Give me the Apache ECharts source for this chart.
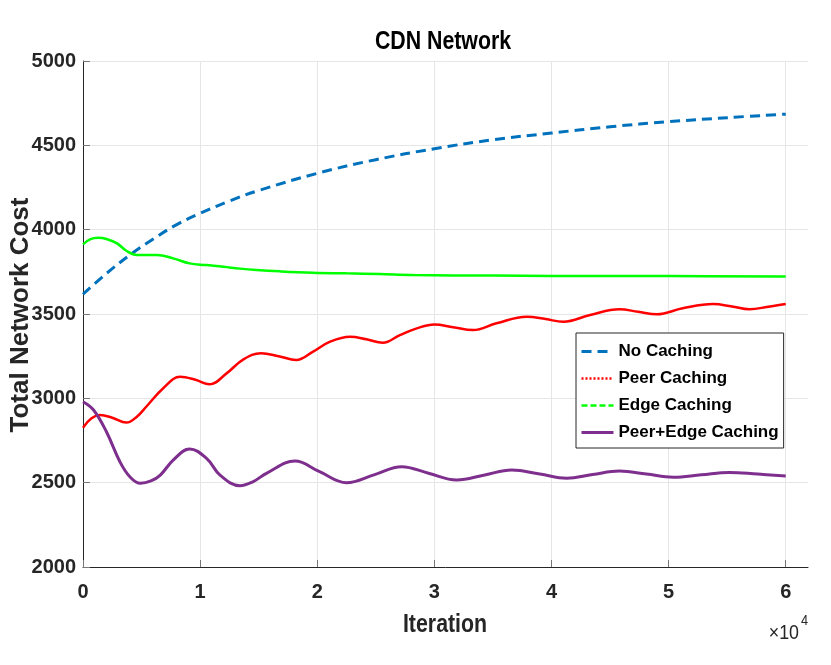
<!DOCTYPE html>
<html>
<head>
<meta charset="utf-8">
<script src="https://cdn.jsdelivr.net/npm/echarts@6/dist/echarts.min.js"></script>
<style>
html,body{margin:0;padding:0;background:#fff;}
#chart{width:831px;height:665px;}
</style>
</head>
<body>
<div id="chart"></div>
<script>
// ---- data (x in units of 10^4 iterations) ----
const noCachingX = [0,0.2,0.4,0.6,0.8,1.0,1.25,1.5,2.0,2.5,3.0,3.5,4.0,4.5,5.0,5.5,6.0];
const noCachingY = [3617,3740,3850,3945,4030,4097,4170,4232,4334,4415,4480,4533,4573,4610,4640,4664,4685];

const peerX = [0,0.07,0.145,0.25,0.37,0.46,0.54,0.685,0.83,0.96,1.08,1.226,1.37,1.52,1.67,1.82,1.965,2.11,2.28,2.42,2.56,2.705,2.85,3.0,3.16,3.33,3.53,3.79,3.95,4.10,4.33,4.58,4.74,4.90,5.12,5.38,5.54,5.69,5.85,6.0];
const peerY = [2826,2880,2901,2885,2856,2891,2950,3060,3128,3110,3083,3148,3231,3267,3250,3227,3277,3336,3365,3350,3330,3375,3415,3438,3422,3405,3445,3484,3470,3454,3494,3528,3513,3498,3534,3559,3545,3528,3543,3559];

const edgeX = [0,0.06,0.13,0.2,0.29,0.37,0.46,0.63,0.77,0.91,1.05,1.2,1.34,1.48,1.68,1.96,2.25,2.53,2.82,3.5,4.0,5.0,6.0];
const edgeY = [3913,3943,3952,3945,3919,3875,3850,3850,3830,3800,3790,3780,3769,3761,3753,3745,3741,3737,3731,3728,3726,3725,3722];

const peerEdgeX = [0,0.09,0.2,0.315,0.4,0.49,0.58,0.66,0.77,0.91,1.055,1.17,1.34,1.45,1.57,1.81,2.02,2.25,2.49,2.72,2.95,3.19,3.43,3.66,3.9,4.13,4.35,4.58,4.81,5.04,5.28,5.52,5.76,6.0];
const peerEdgeY = [2980,2931,2802,2624,2535,2496,2510,2545,2634,2700,2644,2545,2482,2505,2557,2628,2565,2500,2548,2595,2556,2516,2546,2575,2551,2526,2548,2569,2551,2532,2547,2561,2551,2540];

const xTicks = [0,1,2,3,4,5,6];

const seriesNames = ['No Caching','Peer Caching','Edge Caching','Peer+Edge Caching'];

function pairs(xs, ys){ return xs.map((x,i)=>[x*10000, ys[i]]); }

const FONT = "'Liberation Sans',Arial,Helvetica,sans-serif";
const hideSym = {color:'rgba(0,0,0,0)', borderWidth:0, opacity:0};

const chart = echarts.init(document.getElementById('chart'), null, {renderer:'canvas'});
const option = {
  backgroundColor:'#ffffff',
  animation:false,
  grid:{left:83, top:61, right:23, bottom:98, outerBoundsMode:'none', containLabel:false},
  xAxis:{
    type:'value', min:0, max:61900,
    axisLine:{show:true, onZero:false, lineStyle:{color:'#262626', width:1}},
    axisTick:{show:true, inside:true, length:7, lineStyle:{color:'#777'}, customValues: xTicks.map(v=>v*10000)},
    axisLabel:{show:true, margin:15, color:'#262626', fontFamily:FONT, fontWeight:'bold', fontSize:20,
      customValues: xTicks.map(v=>v*10000), formatter:(v)=>String(Math.round(v/10000))},
    splitLine:{show:true, lineStyle:{color:'#e6e6e6', width:1}}
  },
  yAxis:{
    type:'value', min:2000, max:5000, interval:500,
    axisLine:{show:true, lineStyle:{color:'#262626', width:1}},
    axisTick:{show:true, inside:true, length:7, lineStyle:{color:'#777'}},
    axisLabel:{show:true, margin:7, color:'#262626', fontFamily:FONT, fontWeight:'bold', fontSize:20,
      formatter:(v)=>String(v)},
    splitLine:{show:true, lineStyle:{color:'#e6e6e6', width:1}}
  },
  legend:{
    orient:'vertical', left:576, top:333,
    backgroundColor:'#ffffff', borderColor:'#262626', borderWidth:1, borderRadius:0,
    padding:[8,5,5,4], itemGap:6, itemWidth:32, itemHeight:14,
    textStyle:{fontFamily:FONT, fontWeight:'bold', fontSize:17, color:'#000', lineHeight:21},
    itemStyle: hideSym,
    data:[
      {name:seriesNames[0], itemStyle:hideSym, lineStyle:{type:[10,6], width:3, color:'#0072BD'}},
      {name:seriesNames[1], itemStyle:hideSym, lineStyle:{type:[2,2], width:2.5, color:'#FF0000'}},
      {name:seriesNames[2], itemStyle:hideSym, lineStyle:{type:[6,3], width:2.5, color:'#00FF00'}},
      {name:seriesNames[3], itemStyle:hideSym, lineStyle:{type:'solid', width:3, color:'#7E2F8E'}}
    ]
  },
  series:[
    {name:seriesNames[0], type:'line', data:pairs(noCachingX,noCachingY), showSymbol:false, symbol:'none', smooth:0.4,
      lineStyle:{color:'#0072BD', width:3, type:[10,6]}, itemStyle:{color:'#0072BD'}},
    {name:seriesNames[1], type:'line', data:pairs(peerX,peerY), showSymbol:false, symbol:'none', smooth:0.4,
      lineStyle:{color:'#FF0000', width:2.5}, itemStyle:{color:'#FF0000'}},
    {name:seriesNames[2], type:'line', data:pairs(edgeX,edgeY), showSymbol:false, symbol:'none', smooth:0.4,
      lineStyle:{color:'#00FF00', width:2.5}, itemStyle:{color:'#00FF00'}},
    {name:seriesNames[3], type:'line', data:pairs(peerEdgeX,peerEdgeY), showSymbol:false, symbol:'none', smooth:0.4,
      lineStyle:{color:'#7E2F8E', width:3}, itemStyle:{color:'#7E2F8E'}}
  ],
  graphic:[
    {type:'text', x:443, y:42, scaleX:0.82, style:{text:'CDN Network', fontFamily:FONT, fontWeight:'bold', fontSize:26, fill:'#000', align:'center', verticalAlign:'middle'}},
    {type:'text', x:445, y:625, scaleX:0.82, style:{text:'Iteration', fontFamily:FONT, fontWeight:'bold', fontSize:26, fill:'#262626', align:'center', verticalAlign:'middle'}},
    {type:'text', x:21, y:315, rotation:Math.PI/2, style:{text:'Total Network Cost', fontFamily:FONT, fontWeight:'bold', fontSize:26, fill:'#262626', align:'center', verticalAlign:'middle'}},
    {type:'text', x:799, y:633, scaleX:0.85, style:{text:'\u00d710', fontFamily:FONT, fontSize:21, fill:'#262626', align:'right', verticalAlign:'middle'}},
    {type:'text', x:801, y:621, scaleX:0.85, style:{text:'4', fontFamily:FONT, fontSize:15, fill:'#262626', align:'left', verticalAlign:'middle'}}
  ]
};
chart.setOption(option);
</script>
</body>
</html>
